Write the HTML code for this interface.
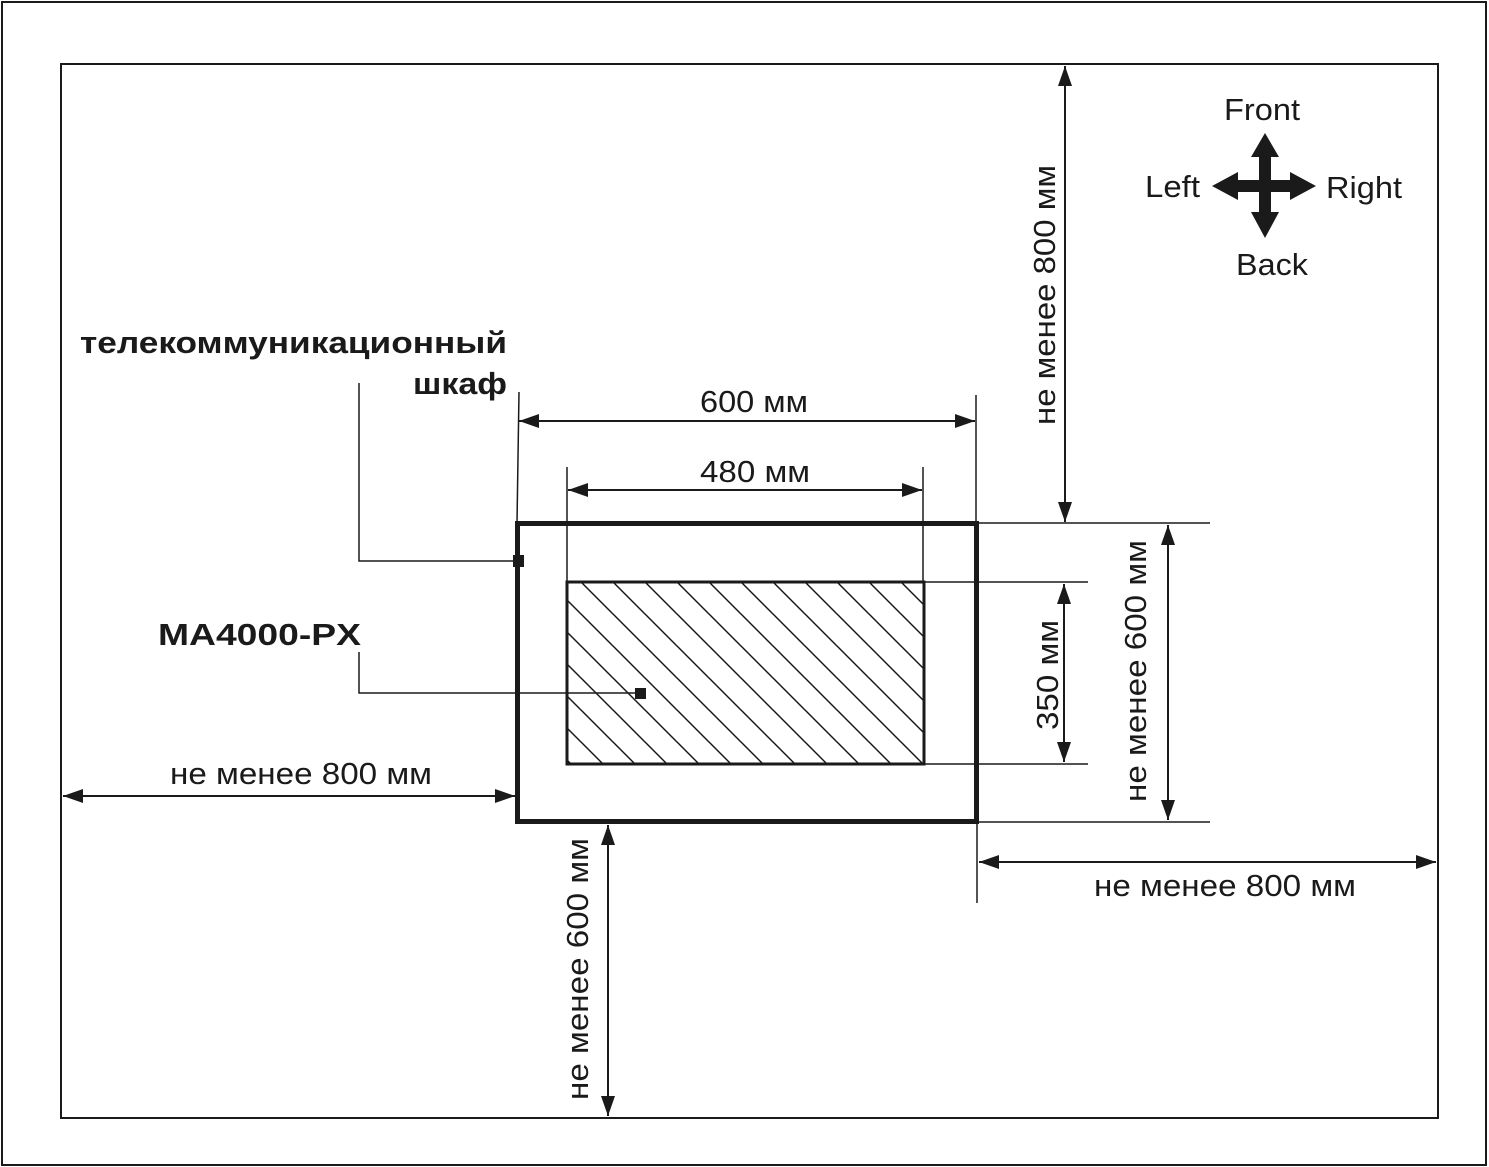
<!DOCTYPE html>
<html><head><meta charset="utf-8"><style>
html,body{margin:0;padding:0;background:#fff}
svg{display:block}
text{font-family:"Liberation Sans",sans-serif;fill:#1a1a1a}
</style></head><body>
<svg width="1489" height="1167" viewBox="0 0 1489 1167" xmlns="http://www.w3.org/2000/svg">
<defs>
<marker id="a" viewBox="0 0 20 14" refX="20" refY="7" markerWidth="20" markerHeight="14" markerUnits="userSpaceOnUse" orient="auto-start-reverse">
<path d="M0,0 L20,7 L0,14 Z" fill="#1a1a1a"/></marker>
<pattern id="h" patternUnits="userSpaceOnUse" x="581" y="582" width="32" height="32">
<path d="M0,0 L32,32 M-16,16 L16,48 M16,-16 L48,16" stroke="#1a1a1a" stroke-width="1.5"/></pattern>
</defs>
<g fill="none" stroke="#1a1a1a">
<rect x="2" y="2" width="1484" height="1163" stroke-width="2"/>
<rect x="61" y="64" width="1377" height="1054" stroke-width="2"/>
<rect x="567" y="582" width="357" height="182" fill="url(#h)" stroke-width="3"/>
<rect x="517.5" y="523.5" width="459" height="298" stroke-width="5"/>
<g stroke-width="1.5">
<line x1="519" y1="392" x2="517" y2="523"/>
<line x1="976" y1="395" x2="976" y2="523"/>
<line x1="567" y1="467" x2="567" y2="582"/>
<line x1="923" y1="467" x2="923" y2="582"/>
<line x1="977" y1="523" x2="1210" y2="523"/>
<line x1="977" y1="822" x2="1210" y2="822"/>
<line x1="924" y1="582" x2="1088" y2="582"/>
<line x1="924" y1="764" x2="1088" y2="764"/>
<line x1="977" y1="822" x2="977" y2="903"/>
<polyline points="359,383 359,561 518,561"/>
<polyline points="359,652 359,693 640,693"/>
</g>
<g stroke-width="2" marker-start="url(#a)" marker-end="url(#a)">
<line x1="519" y1="421" x2="975" y2="421"/>
<line x1="568" y1="490" x2="922" y2="490"/>
<line x1="1065" y1="66" x2="1065" y2="522"/>
<line x1="1064" y1="584" x2="1064" y2="762"/>
<line x1="1168" y1="525" x2="1168" y2="820"/>
<line x1="63" y1="796" x2="515" y2="796"/>
<line x1="608" y1="825" x2="608" y2="1116"/>
<line x1="979" y1="862" x2="1436" y2="862"/>
</g>
</g>
<rect x="513" y="555" width="11" height="12" fill="#1a1a1a"/>
<rect x="635" y="688" width="11" height="11" fill="#1a1a1a"/>
<path fill="#1a1a1a" d="M1265,133 L1279,157 L1271,157 L1271,180 L1290,180 L1290,172 L1316,186 L1290,200 L1290,192 L1271,192 L1271,212 L1279,212 L1265,238 L1251,212 L1259,212 L1259,192 L1238,192 L1238,200 L1212,186 L1238,172 L1238,180 L1259,180 L1259,157 L1251,157 Z"/>
<g font-size="31" lengthAdjust="spacingAndGlyphs">
<text x="1224" y="120" textLength="76" lengthAdjust="spacingAndGlyphs">Front</text>
<text x="1145" y="197" textLength="55" lengthAdjust="spacingAndGlyphs">Left</text>
<text x="1326" y="198" textLength="76" lengthAdjust="spacingAndGlyphs">Right</text>
<text x="1236" y="275" textLength="72" lengthAdjust="spacingAndGlyphs">Back</text>
<text x="700" y="412" textLength="108" lengthAdjust="spacingAndGlyphs">600 мм</text>
<text x="700" y="482" textLength="110" lengthAdjust="spacingAndGlyphs">480 мм</text>
<text x="170" y="784" textLength="262" lengthAdjust="spacingAndGlyphs">не менее 800 мм</text>
<text x="1094" y="896" textLength="262" lengthAdjust="spacingAndGlyphs">не менее 800 мм</text>
<text transform="translate(1055,425) rotate(-90)" textLength="260" lengthAdjust="spacingAndGlyphs">не менее 800 мм</text>
<text transform="translate(1058,730) rotate(-90)" textLength="110" lengthAdjust="spacingAndGlyphs">350 мм</text>
<text transform="translate(1146,802) rotate(-90)" textLength="262" lengthAdjust="spacingAndGlyphs">не менее 600 мм</text>
<text transform="translate(588,1100) rotate(-90)" textLength="262" lengthAdjust="spacingAndGlyphs">не менее 600 мм</text>
</g>
<g font-size="31" font-weight="bold">
<text x="80" y="353" textLength="427" lengthAdjust="spacingAndGlyphs">телекоммуникационный</text>
<text x="413" y="394" textLength="94" lengthAdjust="spacingAndGlyphs">шкаф</text>
<text x="158" y="645" textLength="203" lengthAdjust="spacingAndGlyphs">MA4000-PX</text>
</g>
</svg>
</body></html>
